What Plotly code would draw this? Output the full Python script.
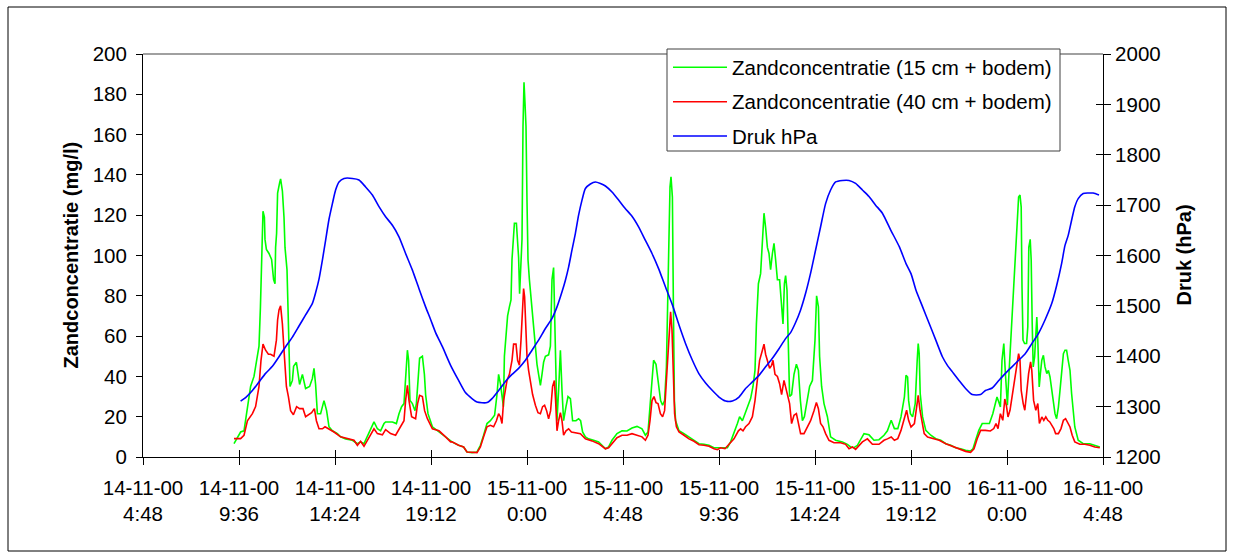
import plotly.graph_objects as go

# ---------------- data (hours since 14-11-00 0:00) ----------------
green_h = [9.35, 9.52, 9.68, 9.85, 10.02, 10.18, 10.35, 10.47, 10.60, 10.67, 10.73, 10.80, 10.87, 10.90, 10.97,
           11.10, 11.23, 11.33, 11.40, 11.43, 11.48, 11.53, 11.63, 11.68, 11.77, 11.85, 11.90, 12.00, 12.05, 12.10,
           12.15, 12.27, 12.33, 12.47, 12.57, 12.63, 12.77, 12.87, 12.93, 13.13, 13.27, 13.35, 13.43, 13.52, 13.68,
           13.85, 13.98, 14.10, 14.27, 14.52, 14.68, 14.93, 15.27, 15.52, 15.68, 15.85, 16.02, 16.18, 16.35, 16.52,
           16.68, 16.85, 16.93, 17.27, 17.47, 17.60, 17.73, 17.85, 17.93, 18.02, 18.08, 18.15, 18.27, 18.40, 18.47,
           18.57, 18.63, 18.77, 18.87, 18.93, 19.05, 19.27, 19.60, 19.93, 20.18,
           20.25, 20.58, 20.83, 21.00, 21.25, 21.50, 21.67, 21.83, 22.00, 22.17, 22.38, 22.50, 22.58, 22.67, 22.75,
           22.82, 22.87, 22.95, 23.03, 23.12, 23.20, 23.25, 23.32, 23.37, 23.47, 23.52, 23.58, 23.63, 23.70, 23.75,
           23.80, 23.85, 23.90, 23.95, 24.00, 24.05, 24.12, 24.18, 24.25, 24.33, 24.42, 24.50, 24.58, 24.67, 24.75,
           24.83, 24.92, 25.08, 25.17, 25.25, 25.33, 25.38, 25.43, 25.50, 25.58, 25.67, 25.75, 25.83, 25.95, 26.05,
           26.17, 26.28, 26.45, 26.58, 26.68, 26.78, 26.92, 27.08, 27.33, 27.58, 27.75, 27.92, 28.08, 28.25, 28.50,
           28.75, 29.00, 29.25, 29.50, 29.75, 29.92, 30.05, 30.15, 30.25, 30.33, 30.45, 30.58, 30.68, 30.78, 30.88,
           30.97,
           31.07, 31.15, 31.20, 31.27, 31.32, 31.37, 31.43, 31.60, 31.85, 32.10, 32.35, 32.60, 32.85, 33.10, 33.35,
           33.60, 33.85, 34.02, 34.18, 34.35, 34.52, 34.63, 34.77, 34.90, 35.02, 35.18, 35.30, 35.40, 35.47, 35.57,
           35.68, 35.77, 35.85, 35.93, 36.02, 36.10, 36.18, 36.27, 36.35, 36.43, 36.52, 36.63, 36.73, 36.80, 36.87,
           36.93, 37.00, 37.07, 37.13, 37.23, 37.35, 37.47, 37.57, 37.67, 37.77, 37.87, 38.02, 38.13, 38.27, 38.40,
           38.48, 38.57, 38.63, 38.73, 38.85, 39.02, 39.18, 39.43, 39.77, 40.02, 40.18, 40.35, 40.52, 40.68, 40.85,
           41.10, 41.35, 41.60, 41.85, 42.02,
           42.21, 42.37, 42.54, 42.70, 42.87, 42.95, 43.03, 43.08, 43.17, 43.28, 43.41, 43.51, 43.56, 43.61, 43.66,
           43.78, 43.94, 44.19, 44.44, 44.69, 44.94, 45.19, 45.43, 45.68, 45.93, 46.18, 46.30, 46.43, 46.59, 46.76,
           46.92, 47.12, 47.29, 47.42, 47.50, 47.59, 47.67, 47.75, 47.84, 47.92, 48.02, 48.08, 48.17, 48.25, 48.33,
           48.42, 48.51, 48.58, 48.65, 48.71, 48.75, 48.80, 48.88, 48.98, 49.04, 49.09, 49.16, 49.21, 49.26, 49.31,
           49.38, 49.44, 49.49, 49.54, 49.61, 49.67, 49.74, 49.82, 49.90, 49.99, 50.07, 50.15, 50.24, 50.32, 50.40,
           50.48, 50.57, 50.65, 50.73, 50.82, 50.90, 50.98, 51.06, 51.15, 51.23, 51.31, 51.39, 51.56, 51.81, 52.14,
           52.39, 52.64]
green_v = [6.6, 9.9, 12.4, 13, 25, 35, 40, 48, 55, 74, 101, 122, 119, 108, 103,
           101, 98, 88, 86, 104, 111, 131, 136, 138, 132, 119, 104, 93, 74, 50,
           35, 38, 45, 47, 40, 36, 41, 36, 34, 35, 39, 44, 36, 21.5, 21.5,
           28, 23, 15, 13, 11.6, 10, 9, 8.3, 6.6, 7.5, 6.6, 10, 14, 17.4, 14,
           13, 16.6, 17.4, 17.4, 16.6, 21.5, 25, 26.5, 41, 53, 48, 28, 26.5, 23, 26.5,
           41, 49, 50, 41, 31, 21.5, 15, 12.4, 10, 8.3,
           7.5, 5.8, 5, 2.5, 2.2, 2.5, 5.8, 10.8, 16.6, 18, 20.7, 31, 41, 36.4, 31,
           25, 50, 63, 70, 74.5, 78, 98, 109, 116, 116, 106, 99, 81, 94, 108,
           164, 186, 175.5, 164, 127, 98, 88, 81, 74.5, 63, 55, 46, 41, 35.6, 41,
           47, 50, 50.7, 55, 88, 94, 74.5, 50, 18, 33, 53, 33, 18, 25, 30,
           29, 18, 18, 19, 18, 12.4, 10, 9, 8.3, 7.5, 5.8, 4.1, 5, 8.3, 11.6,
           13, 12.9, 14.4, 15.2, 14, 10.8, 12.4, 25, 41, 48, 46, 35, 28, 25.7, 28,
           44.7,
           91, 134, 139, 129, 74.5, 28, 18, 13, 11.6, 10, 8.3, 6.6, 6.3, 5.8, 4.6,
           4.6, 4.6, 4.6, 7.5, 11.6, 16.6, 20, 18, 21.5, 25, 29, 35, 43, 66, 86,
           91, 111, 121, 114, 104, 101, 93, 101, 106, 98, 88, 88, 74.5, 66, 86,
           90, 82.8, 53, 30, 31, 41, 46, 43, 28, 18, 20, 28, 35, 38, 58,
           80, 74.5, 50, 35, 26.5, 20, 10, 8.3, 7.5, 6.3, 5, 4.6, 5.8, 9, 11.6,
           11, 8.3, 8.6, 10.8, 13,
           18.2, 14.1, 14.1, 19.9, 29.8, 40.6, 39.7, 28.1, 21.5, 19.9, 26.5, 48, 56.3, 51.3, 31.5,
           19.9, 13.2, 10.8, 9.1, 8.3, 6.6, 5.8, 4.6, 4.1, 3.3, 3.0, 4.1, 8.3, 13.2, 16.6,
           16.6, 16.6, 21.5, 26.5, 29.8, 27.3, 24.8, 48, 56.3, 41.4, 25.7, 38.1, 54.6, 67.9, 84.4,
           101, 114, 129, 130, 124, 84.4, 58, 56.3, 56.3, 64.6, 104, 108, 97.7, 66.2, 44.7,
           49.7, 61.3, 69.5, 57.9, 34.8, 41.4, 48, 50.5, 44.7, 41.4, 43, 39.7, 33.1, 26.5, 21.5,
           19, 24.8, 33.1, 41.4, 51.3, 53, 53, 48, 43, 31.5, 21.5, 14.9, 8.3, 6.6, 6.6,
           5.8, 5]

red_h = [9.35, 9.68, 9.85, 10.02, 10.27, 10.43, 10.60, 10.70, 10.80, 10.93, 11.07, 11.18, 11.35, 11.47, 11.53,
         11.60, 11.68, 11.77, 11.87, 11.97, 12.07, 12.18, 12.32, 12.48, 12.63, 12.80, 12.93, 13.10, 13.23, 13.37,
         13.47, 13.60, 13.77, 13.90, 14.10, 14.35, 14.68, 15.10, 15.35, 15.52, 15.68, 15.85, 16.10, 16.35, 16.52,
         16.77, 16.93, 17.18, 17.43, 17.68, 17.85, 17.93, 18.02, 18.10, 18.23, 18.43, 18.53, 18.63, 18.77, 18.88,
         19.02, 19.27, 19.60, 19.93, 20.18,
         20.25, 20.58, 20.83, 21.00, 21.50, 21.67, 21.83, 22.00, 22.17, 22.33, 22.47, 22.58, 22.67, 22.75, 22.83,
         22.92, 23.00, 23.12, 23.25, 23.33, 23.45, 23.53, 23.62, 23.70, 23.78, 23.83, 23.88, 23.93, 24.00, 24.08,
         24.17, 24.28, 24.42, 24.55, 24.67, 24.78, 24.88, 24.98, 25.08, 25.18, 25.28, 25.37, 25.43, 25.50, 25.58,
         25.67, 25.75, 25.83, 25.95, 26.08, 26.22, 26.42, 26.67, 26.92, 27.25, 27.58, 27.75, 27.92, 28.08, 28.25,
         28.50, 28.75, 29.00, 29.25, 29.50, 29.75, 29.92, 30.05, 30.15, 30.25, 30.35, 30.45, 30.55, 30.67, 30.78,
         30.88, 30.97,
         31.10, 31.18, 31.25, 31.32, 31.38, 31.47, 31.60, 31.85, 32.10, 32.35, 32.60, 32.85, 33.10, 33.35, 33.52,
         33.68, 33.90, 34.10, 34.35, 34.57, 34.68, 34.80, 34.93, 35.10, 35.27, 35.40, 35.52, 35.63, 35.77, 35.85,
         35.93, 36.03, 36.13, 36.23, 36.30, 36.40, 36.52, 36.63, 36.73, 36.85, 36.93, 37.03, 37.13, 37.23, 37.35,
         37.47, 37.57, 37.68, 37.85, 38.02, 38.18, 38.35, 38.47, 38.57, 38.68, 38.80, 38.93, 39.10, 39.35, 39.68,
         39.93, 40.10, 40.27, 40.43, 40.60, 40.77, 41.02, 41.27, 41.60, 41.85, 42.02,
         42.21, 42.37, 42.54, 42.70, 42.87, 42.98, 43.08, 43.20, 43.37, 43.48, 43.56, 43.65, 43.75, 43.86, 44.03,
         44.28, 44.61, 44.94, 45.27, 45.60, 45.93, 46.18, 46.35, 46.51, 46.68, 46.92, 47.17, 47.34, 47.45, 47.55,
         47.67, 47.79, 47.89, 47.97, 48.05, 48.15, 48.25, 48.35, 48.45, 48.53, 48.58, 48.65, 48.71, 48.81, 48.89,
         48.98, 49.08, 49.18, 49.24, 49.33, 49.44, 49.54, 49.62, 49.74, 49.84, 49.94, 50.04, 50.14, 50.24, 50.34,
         50.43, 50.57, 50.70, 50.82, 50.93, 51.03, 51.15, 51.26, 51.39, 51.64, 51.89, 52.14, 52.39, 52.64]
red_v = [9.1, 9.1, 10.8, 18, 21.5, 25, 35, 48, 56, 53, 51, 51, 50, 58, 68,
         73, 75, 66, 50, 35, 30, 23, 21, 25, 24, 24, 20, 21, 22, 24,
         18, 14, 14, 15, 14, 12.4, 10, 9, 8.3, 5.8, 7.8, 5.3, 10, 14, 11.6,
         11, 13.6, 11.6, 10.8, 15, 18, 28, 35.6, 28, 20, 19, 26.5, 30.6, 30, 23,
         19, 14, 13, 10, 7.5,
         7.5, 5.8, 5, 2.5, 2.2, 5, 10, 15, 15.7, 15, 18, 21.5, 20, 16.6, 28,
         33, 38, 41, 48, 56, 56, 48, 45.5, 58, 74.5, 83.6, 79.5, 68, 50, 43,
         38, 31, 25.7, 22, 21.5, 25, 25.7, 23, 19, 23, 35, 38, 28, 13, 18,
         22, 18, 10.8, 13, 14, 12.4, 12, 11.6, 9, 8, 6.6, 5.3, 4.1, 4.6, 6.6,
         9.6, 10.8, 10.8, 11.6, 10.8, 10, 8.3, 10.8, 18, 28, 30, 27, 26.5, 21.5, 20,
         23, 38,
         61, 72, 63, 41, 21.5, 15, 12.4, 10.8, 9, 7.8, 6.1, 5.8, 5.3, 4.1, 3.6,
         4.6, 4.1, 6.3, 9, 13, 14, 13, 15, 16.6, 20, 28, 40, 48, 53, 56,
         51, 48, 44, 45.5, 48, 41, 40, 36.4, 31, 38, 35, 30, 26.5, 16.6, 20.7,
         21.5, 16.6, 11.6, 11.6, 15, 18, 23, 27, 24, 16.6, 15, 11.6, 8.3, 7.1, 7.1,
         6.3, 4.1, 5, 3.8, 5.8, 7.5, 9, 6.3, 6.3, 8.3, 9,
         9.9, 8.3, 9.1, 13.2, 19.9, 23.2, 18.2, 14.9, 16.6, 24.8, 30.6, 23.2, 16.6, 11.6, 9.9,
         9.1, 8.3, 6.6, 5.3, 4.1, 2.8, 2.3, 4.1, 9.1, 13.2, 13.2, 12.9, 14.1, 16.6, 14.1,
         21.5, 18.2, 28.8, 25.5, 19.9, 23.2, 29.8, 36.4, 43, 48, 51.3, 48, 33.1, 26.5, 23.2,
         31.5, 41.4, 47.2, 43, 28.1, 23.2, 26.5, 16.6, 19.9, 18.2, 19.9, 18.2, 17.4, 15.7, 14.1,
         11.6, 11.6, 14.1, 18.2, 19, 17.4, 14.9, 10.8, 7.5, 6.3, 6.3, 5.8, 5, 4.6]

blue_h = [9.68, 9.93, 10.27, 10.60, 10.93, 11.27, 11.60, 11.93, 12.27, 12.60, 12.93, 13.27, 13.43, 13.60, 13.77,
          13.93, 14.10, 14.27, 14.43, 14.60, 14.85, 15.27, 15.60, 15.93, 16.27, 16.60, 16.93, 17.27, 17.60, 17.93,
          18.27, 18.60, 18.93, 19.18, 19.43, 19.77, 20.18,
          20.58, 20.92, 21.25, 21.50, 22.00, 22.25, 22.58, 22.92, 23.25, 23.58, 23.92, 24.25, 24.58, 24.92, 25.25,
          25.50, 25.75, 25.92, 26.08, 26.25, 26.42, 26.58, 26.75, 26.92, 27.17, 27.42, 27.67, 27.92, 28.25, 28.58,
          28.92, 29.25, 29.58, 29.92, 30.25, 30.58, 30.92,
          31.27, 31.60, 31.93, 32.27, 32.60, 32.93, 33.27, 33.60, 33.93, 34.27, 34.60, 34.93, 35.27, 35.60, 35.93,
          36.27, 36.60, 36.93, 37.18, 37.43, 37.68, 37.93, 38.18, 38.43, 38.68, 38.93, 39.18, 39.43, 39.77, 40.10,
          40.43, 40.77, 41.10, 41.43, 41.77, 42.18,
          42.62, 42.95, 43.20, 43.45, 43.78, 44.11, 44.44, 44.77, 45.02, 45.27, 45.60, 45.93, 46.26, 46.68, 46.92,
          47.26, 47.59, 47.92, 48.25, 48.58, 48.91, 49.24, 49.57, 49.90, 50.24, 50.48, 50.73, 50.90, 51.06, 51.23,
          51.39, 51.56, 51.81, 52.06, 52.31, 52.60]
blue_v = [1311, 1318, 1332, 1349, 1366, 1380, 1399, 1419, 1438, 1460, 1482, 1505, 1526, 1553, 1591,
          1630, 1672, 1703, 1730, 1746, 1753, 1753, 1750, 1736, 1720, 1697, 1677, 1660, 1637, 1604,
          1571, 1534, 1498, 1473, 1447, 1419, 1382,
          1352, 1328, 1316, 1309, 1308, 1316, 1332, 1350, 1364, 1376, 1392, 1412, 1432, 1455, 1475,
          1498, 1528, 1551, 1577, 1611, 1644, 1680, 1710, 1733, 1742, 1746, 1743, 1738, 1726, 1710,
          1693, 1678, 1657, 1630, 1604, 1574, 1538,
          1502, 1462, 1425, 1392, 1365, 1347, 1332, 1319, 1311, 1311, 1319, 1336, 1349, 1362, 1379,
          1396, 1415, 1435, 1447, 1467, 1492, 1525, 1565, 1611, 1657, 1703, 1730, 1746, 1749, 1749,
          1743, 1730, 1717, 1700, 1684, 1651,
          1617, 1584, 1564, 1531, 1498, 1465, 1432, 1399, 1382, 1369, 1352, 1336, 1324, 1324, 1332,
          1337, 1352, 1366, 1379, 1392, 1405, 1425, 1445, 1472, 1505, 1540, 1584, 1620, 1640, 1670,
          1697, 1713, 1723, 1724, 1724, 1720]

series_names = ["Zandconcentratie (15 cm + bodem)", "Zandconcentratie (40 cm + bodem)", "Druk hPa"]
series_colors = ["#00FF00", "#FF0000", "#0000FF"]

tick_hours = [4.8, 9.6, 14.4, 19.2, 24.0, 28.8, 33.6, 38.4, 43.2, 48.0, 52.8]
tick_labels = ["14-11-00<br>4:48", "14-11-00<br>9:36", "14-11-00<br>14:24", "14-11-00<br>19:12",
               "15-11-00<br>0:00", "15-11-00<br>4:48", "15-11-00<br>9:36", "15-11-00<br>14:24",
               "15-11-00<br>19:12", "16-11-00<br>0:00", "16-11-00<br>4:48"]

# ---------------- layout geometry ----------------
W, H = 1234, 557
L, R, T, B = 143, 131, 54, 100
PW = W - L - R
PH = H - T - B
FONT = "Liberation Sans, Arial, sans-serif"
FS = 20.5
FS_TITLE = 20


def px(x):
    return (x - L) / PW


def py(y):
    return (H - B - y) / PH


fig = go.Figure()
fig.add_trace(go.Scatter(x=green_h, y=green_v, mode="lines", name=series_names[0],
                         line=dict(color=series_colors[0], width=1.6), yaxis="y"))
fig.add_trace(go.Scatter(x=red_h, y=red_v, mode="lines", name=series_names[1],
                         line=dict(color=series_colors[1], width=1.6), yaxis="y"))
fig.add_trace(go.Scatter(x=blue_h, y=blue_v, mode="lines", name=series_names[2],
                         line=dict(color=series_colors[2], width=1.6, shape="spline", smoothing=0.6),
                         yaxis="y2"))
# empty helper trace so the tick-only overlay axes are drawn
fig.add_trace(go.Scatter(x=[], y=[], xaxis="x2", yaxis="y3", showlegend=False, hoverinfo="skip"))

axis_common = dict(showgrid=False, zeroline=False, color="black")

fig.update_layout(
    width=W, height=H,
    margin=dict(l=L, r=R, t=T, b=B, pad=0),
    paper_bgcolor="white", plot_bgcolor="white",
    showlegend=False,
    font=dict(family=FONT, size=FS, color="black"),
    xaxis=dict(range=[4.8, 52.8], tickmode="array", tickvals=tick_hours, ticktext=tick_labels,
               ticks="outside", ticklen=7, tickwidth=1, tickcolor="black", ticklabelstandoff=5,
               showline=True, linecolor="black", linewidth=1,
               tickfont=dict(family=FONT, size=FS, color="black"), **axis_common),
    xaxis2=dict(range=[4.8, 52.8], overlaying="x", anchor="y", side="bottom",
                tickmode="array", tickvals=tick_hours, ticks="inside", ticklen=7, tickwidth=1,
                tickcolor="black", showticklabels=False, showline=False, **axis_common),
    yaxis=dict(range=[0, 200], tickmode="linear", tick0=0, dtick=20,
               ticks="outside", ticklen=6, tickwidth=1, tickcolor="black", ticklabelstandoff=5,
               showline=True, linecolor="black", linewidth=1,
               tickfont=dict(family=FONT, size=FS, color="black"), **axis_common),
    yaxis2=dict(range=[1200, 2000], overlaying="y", side="right", anchor="x",
                tickmode="linear", tick0=1200, dtick=100,
                ticks="outside", ticklen=7, tickwidth=1, tickcolor="black",
                showline=True, linecolor="black", linewidth=1,
                tickfont=dict(family=FONT, size=FS, color="black"), **axis_common),
    yaxis3=dict(range=[1200, 2000], overlaying="y", side="right", anchor="x",
                tickmode="linear", tick0=1200, dtick=100,
                ticks="inside", ticklen=7, tickwidth=1, tickcolor="black",
                showticklabels=False, showline=False, **axis_common),
)

shapes = []
# outer chart border
shapes.append(dict(type="rect", xref="paper", yref="paper", x0=px(8), x1=px(1226), y0=py(551), y1=py(7),
                   line=dict(color="black", width=1), fillcolor="rgba(0,0,0,0)", layer="below"))
# plot area top border (gray)
shapes.append(dict(type="line", xref="paper", yref="paper", x0=0, x1=1, y0=1, y1=1,
                   line=dict(color="#808080", width=1.5)))
# legend box
shapes.append(dict(type="rect", xref="paper", yref="paper", x0=px(667), x1=px(1060), y0=py(151), y1=py(49),
                   line=dict(color="#404040", width=1), fillcolor="white", layer="above"))
legend_rows = [67.3, 101.7, 136.0]
annotations = []
for name, color, ry in zip(series_names, series_colors, legend_rows):
    shapes.append(dict(type="line", xref="paper", yref="paper", x0=px(673), x1=px(727), y0=py(ry), y1=py(ry),
                       line=dict(color=color, width=1.6), layer="above"))
    annotations.append(dict(xref="paper", yref="paper", x=px(730), y=py(ry), text=name, showarrow=False,
                            xanchor="left", yanchor="middle", font=dict(family=FONT, size=FS, color="black")))

# axis titles
annotations.append(dict(xref="paper", yref="paper", x=px(70), y=0.5, text="<b>Zandconcentratie (mg/l)</b>",
                        textangle=-90, showarrow=False, xanchor="center", yanchor="middle",
                        font=dict(family=FONT, size=FS_TITLE, color="black")))
annotations.append(dict(xref="paper", yref="paper", x=px(1183), y=0.5, text="<b>Druk (hPa)</b>",
                        textangle=-90, showarrow=False, xanchor="center", yanchor="middle",
                        font=dict(family=FONT, size=FS_TITLE, color="black")))

fig.update_layout(shapes=shapes, annotations=annotations)
fig.write_html("out.html")
